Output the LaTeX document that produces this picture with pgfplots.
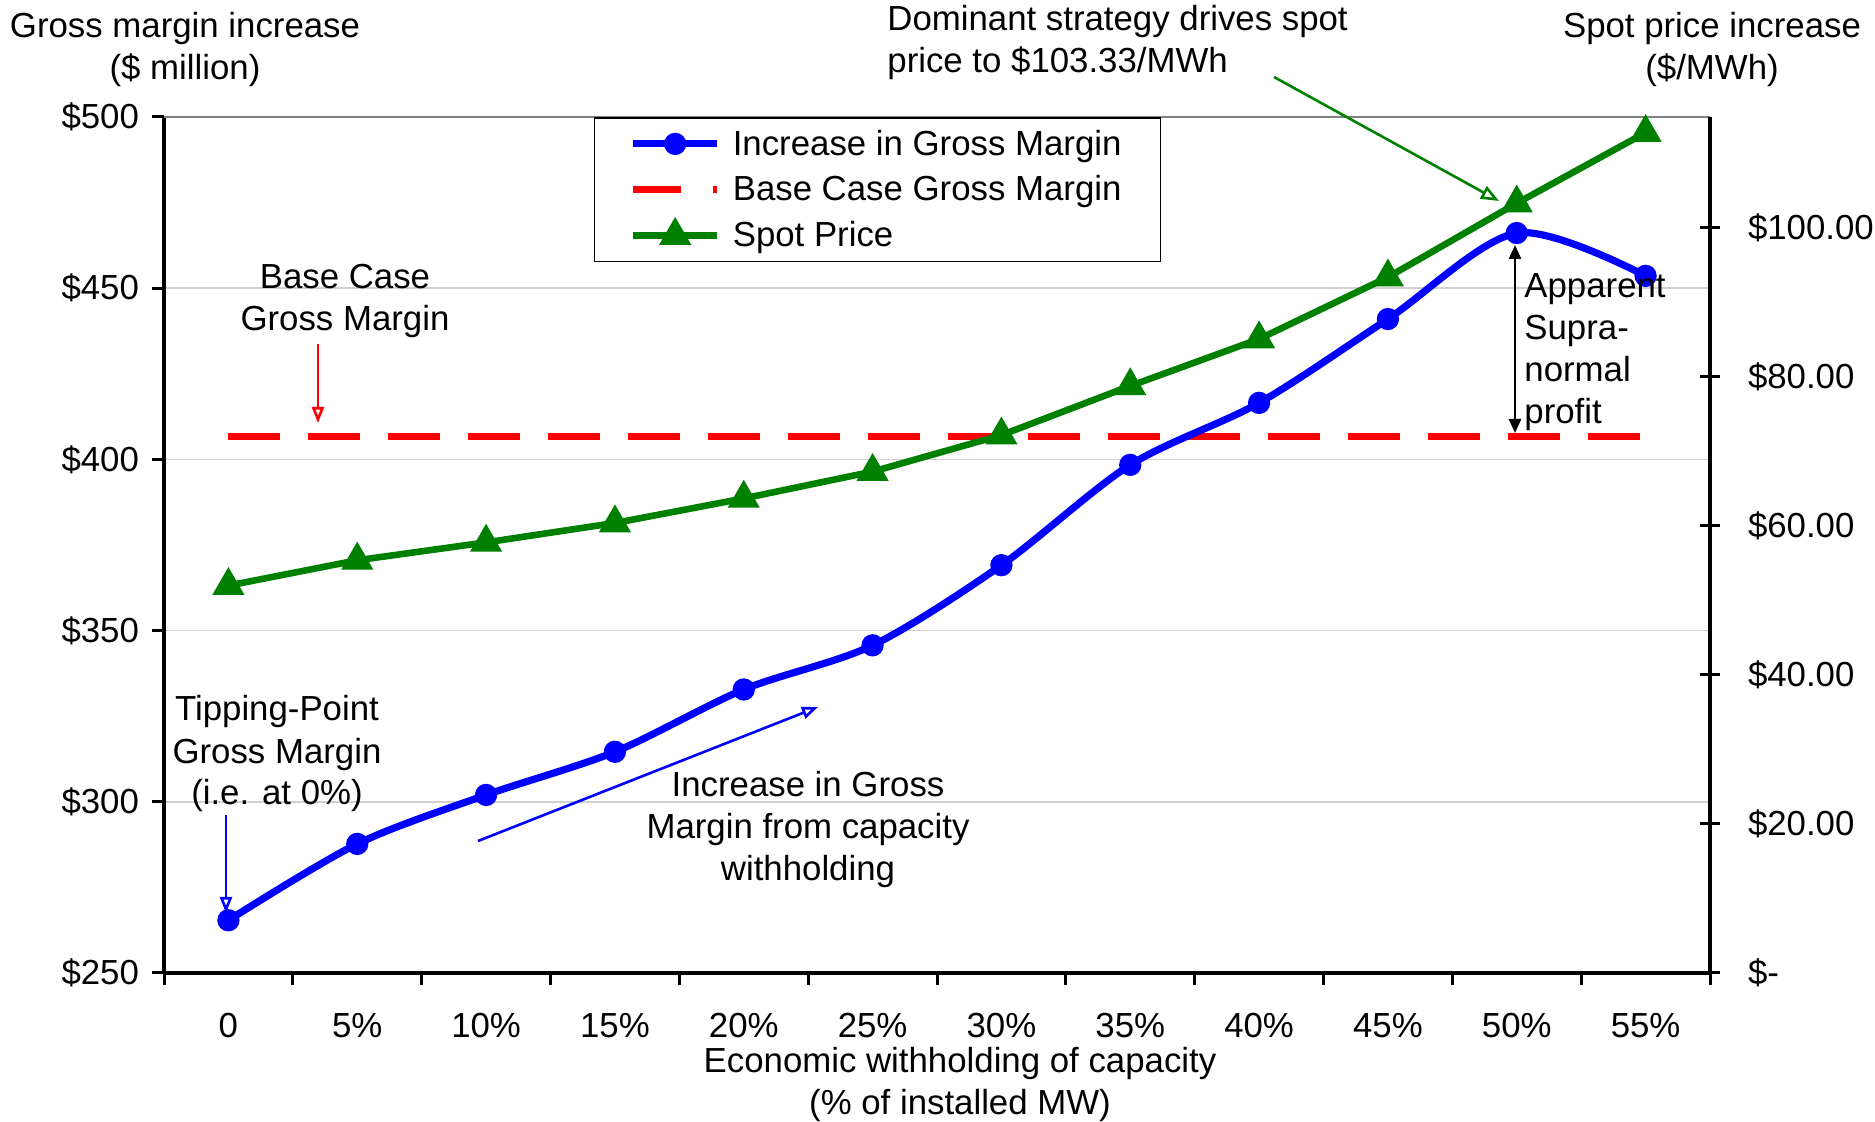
\documentclass[border=0pt]{standalone}
\usepackage{fontspec}
\setmainfont{Liberation Sans}
\usepackage{pgfplots}
\pgfplotsset{compat=1.18}
\usetikzlibrary{arrows.meta}

\definecolor{gmblue}{RGB}{0,0,255}
\definecolor{basered}{RGB}{255,0,0}
\definecolor{spotgreen}{RGB}{0,128,0}
\newcommand{\fs}{\fontsize{17.4pt}{21pt}\selectfont}

\pgfplotsset{
  legend image code/.code={%
    \draw[mark repeat=2,mark phase=2,#1] plot coordinates {(0pt,0pt) (21pt,0pt) (42pt,0pt)};},
  chartframe/.style={
    overlay,
    scale only axis, width=773pt, height=428pt,
    at={(0pt,0pt)}, anchor=south west,
    xmin=-0.5, xmax=11.5,
    axis line style={-, black, line width=1.7pt},
    tick style={black, line width=1.5pt},
    tick label style={font=\fs},
    clip=false,
  },
}

\begin{document}
\begin{tikzpicture}[font=\fs]
% fixed page frame (pixel grid of the whole figure)
\begin{scope}[x=0.5pt, y=-0.5pt, shift={(-82pt,486.5pt)}]
  \path[use as bounding box] (0,0) rectangle (1875,1121);
\end{scope}

% Left axis: gross margin ($ million)
\begin{axis}[chartframe,
  axis x line*=bottom, axis y line*=left,
  ymin=250, ymax=500,
  xtick={-0.5,0.5,...,11.5}, xticklabels={},
  extra x ticks={0,1,...,11},
  extra x tick labels={0,5\%,10\%,15\%,20\%,25\%,30\%,35\%,40\%,45\%,50\%,55\%},
  extra x tick style={tick style={draw=none}, xticklabel style={yshift=-10.5pt}},
  ytick={250,300,...,500},
  yticklabels={\$250,\$300,\$350,\$400,\$450,\$500},
  yticklabel style={xshift=-3pt},
  tick align=outside, major tick length=6pt,
  ymajorgrids, grid style={color=black!18, line width=0.8pt},
]
  % top edge of the plot area
  \draw[color=black!50, line width=1pt] (rel axis cs:0,1) -- (rel axis cs:1,1);
  % base case gross margin
  \addplot[basered, line width=3.5pt, dash pattern=on 26pt off 14pt]
    coordinates {(0,406.8) (11,406.8)};
  % increase in gross margin
  \addplot[gmblue, line width=3.6pt, smooth, mark=*, mark size=3.75pt]
    coordinates {(0,265.4) (1,287.7) (2,302.0) (3,314.6) (4,332.8) (5,345.7)
                 (6,369.1) (7,398.4) (8,416.5) (9,441.0) (10,466.1) (11,453.6)};
\end{axis}

% Right axis: spot price ($/MWh)
\begin{axis}[chartframe,
  axis y line*=right, axis x line=none,
  ymin=0, ymax=114.9,
  ytick={0,20,...,100},
  yticklabels={\$-,\$20.00,\$40.00,\$60.00,\$80.00,\$100.00},
  yticklabel style={xshift=13.8pt, inner xsep=0pt},
  tick align=center, major tick length=10pt,
  legend style={at={(0.278,1)}, anchor=north west, draw=black, line width=0.8pt,
    fill=white, font=\fs, row sep=4.8pt, column sep=4pt, inner xsep=17.5pt, inner ysep=4pt,
    cells={anchor=west}},
]
  \addlegendimage{gmblue, line width=3.6pt, mark=*, mark size=3.75pt}
  \addlegendentry{Increase in Gross Margin}
  \addlegendimage{basered, line width=3.5pt, dash pattern=on 24pt off 16pt}
  \addlegendentry{Base Case Gross Margin}
  \addplot[spotgreen, line width=3.3pt, mark=triangle*, mark size=6pt]
    coordinates {(0,52.0) (1,55.4) (2,57.8) (3,60.4) (4,63.7) (5,67.3)
                 (6,72.2) (7,78.8) (8,85.1) (9,93.4) (10,103.33) (11,112.8)};
  \addlegendentry{Spot Price}
\end{axis}

% Titles and annotations
\begin{scope}[x=0.5pt, y=-0.5pt, shift={(-82pt,486.5pt)}]
  \node[align=center, inner sep=0pt] at (185,50) {Gross margin increase\\(\$ million)};
  \node[align=center, inner sep=0pt] at (1712,50) {Spot price increase\\(\$/MWh)};
  \node[align=center, inner sep=0pt] at (960,1084) {Economic withholding of capacity\\(\% of installed MW)};

  \node[align=left, anchor=west, inner sep=0pt] at (887,43)
    {Dominant strategy drives spot\\price to \$103.33/MWh};
  \draw[spotgreen, line width=1.3pt, -{Triangle[open, length=9pt, width=7pt]}]
    (1274,77) -- (1499,201);

  \node[align=center, inner sep=0pt] at (345,301) {Base Case\\Gross Margin};
  \draw[basered, line width=1.3pt, -{Triangle[open, length=8pt, width=6pt]}]
    (318,344) -- (318,423);

  \node[align=center, inner sep=0pt] at (277,754) {Tipping-Point\\Gross Margin\\(i.e. at 0\%)};
  \draw[gmblue, line width=1.3pt, -{Triangle[open, length=8pt, width=6pt]}]
    (226,815) -- (226,913);

  \node[align=center, inner sep=0pt] at (808,830) {Increase in Gross\\Margin from capacity\\withholding};
  \draw[gmblue, line width=1.3pt, -{Triangle[open, length=8pt, width=6pt]}]
    (478,841) -- (818,707);

  \node[align=left, anchor=west, inner sep=0pt] at (1524,352) {Apparent\\Supra-\\normal\\profit};
  \draw[black, line width=1.3pt, {Triangle[length=7pt, width=6pt]}-{Triangle[length=7pt, width=6pt]}]
    (1515,245) -- (1515,433);
\end{scope}
\end{tikzpicture}
\end{document}
